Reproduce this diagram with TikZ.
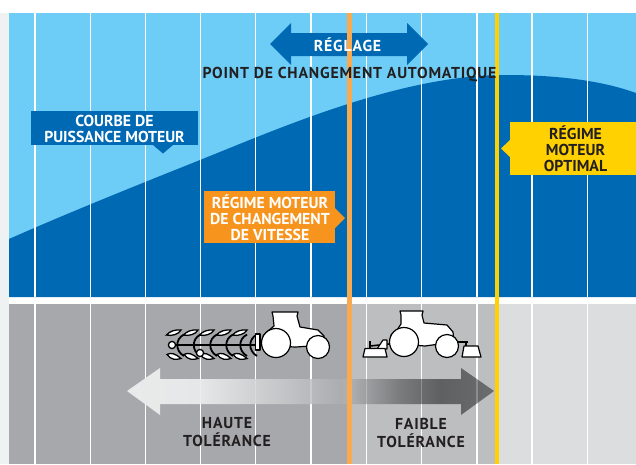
\documentclass[tikz,border=0pt]{standalone}
\usepackage{fontspec}
\setmainfont{PT Sans}
\newfontfamily\spaced[LetterSpace=5]{PT Sans}
\definecolor{sky}{HTML}{6DCDF6}
\definecolor{deep}{HTML}{0069B4}
\definecolor{ora}{HTML}{F7941E}
\definecolor{oraline}{HTML}{F9A94F}
\definecolor{yel}{HTML}{FFD100}
\definecolor{ink}{HTML}{231F20}
\definecolor{grayA}{HTML}{A7A8AB}
\definecolor{grayB}{HTML}{BDBEC0}
\definecolor{grayC}{HTML}{DCDDDF}
\definecolor{strip}{HTML}{EEF2F3}
\pgfdeclarehorizontalshading{gradarrow}{100bp}{
 rgb(0bp)=(0.914,0.918,0.918); rgb(25bp)=(0.914,0.918,0.918);
 rgb(35bp)=(0.902,0.906,0.910); rgb(54bp)=(0.675,0.678,0.690);
 rgb(55.2bp)=(0.69,0.694,0.702); rgb(62.2bp)=(0.478,0.482,0.490);
 rgb(67.6bp)=(0.373,0.376,0.384); rgb(75bp)=(0.42,0.424,0.431); rgb(100bp)=(0.42,0.424,0.431)}
\tikzset{
 x=1pt,y=-1pt,
 gridline/.style={white,line width=1.1pt},
 lbl/.style={font=\bfseries\fontsize{15.8}{16}\selectfont,align=center,inner sep=0pt},
 wide/.style={font=\spaced\bfseries\fontsize{15.8}{18}\selectfont,align=center,inner sep=0pt},
 veh/.style={draw=black,fill=white,line width=1.2pt,line join=round},
 leaf/.style={draw=black,fill=white,line width=1.3pt},
}
\begin{document}
\begin{tikzpicture}
\useasboundingbox (0,0) rectangle (636,464);
\fill[white] (0,0) rectangle (636,464);
\fill[strip] (0,13) rectangle (9,464);
\fill[sky] (9,13) rectangle (636,297);
\fill[deep] (9,239) .. controls (70,212) and (140,184) .. (200,160)
  .. controls (280,128) and (400,75) .. (505,75)
  .. controls (555,75) and (600,80) .. (636,93) -- (636,297) -- (9,297) -- cycle;
\fill[grayA] (9,304) rectangle (349,464);
\fill[grayB] (349,304) rectangle (497,464);
\fill[grayC] (497,304) rectangle (636,464);
\foreach \x in {35,90.3,145.3,200.7,255.7,311,366.3,421.3,477,532,587.3} {
  \draw[gridline] (\x,13) -- (\x,297);
  \draw[gridline] (\x,304) -- (\x,464);
}
% gradient arrow
\path[shading=gradarrow] (127,391) -- (160,368) -- (160,379) -- (461,379) -- (461,368) -- (494,391) -- (461,415) -- (461,404) -- (160,404) -- (160,415) -- cycle;
\foreach \x in {200.7,255.7,311,366.3,421.3,477} \draw[white,opacity=.25,line width=1.1pt] (\x,379) -- (\x,404);
% reglage arrow
\fill[deep] (270,44) -- (291,23) -- (291,33) -- (407,33) -- (407,23) -- (428,44) -- (407,65) -- (407,56) -- (291,56) -- (291,65) -- cycle;
% vertical markers
\coordinate (otop) at (349.5,13); \coordinate (obot) at (349.5,464);
\coordinate (ytop) at (497,13); \coordinate (ybot) at (497,464);
\draw[oraline,line width=4.2pt] (otop) -- (obot);
\draw[yel,line width=4.2pt] (ytop) -- (ybot);
% labels
\node[wide,white] (reg) at (347.5,44.5) {RÉGLAGE};
\node[wide,ink] (pt) at (349.5,74.5) {POINT DE CHANGEMENT AUTOMATIQUE};
% callouts
\fill[deep] (31,111) rectangle (198,145);
\fill[deep] (153,145) -- (163,153.5) -- (173,145) -- cycle;
\node[lbl,white] (cb) at (114.5,129) {COURBE DE\\PUISSANCE MOTEUR};
\fill[ora] (204,191) rectangle (335,243);
\fill[ora] (335,208) -- (345,218) -- (335,228) -- cycle;
\node[lbl,white] (rm) at (270,217.5) {RÉGIME MOTEUR\\DE CHANGEMENT\\DE VITESSE};
\fill[yel] (510,122) rectangle (636,175);
\fill[yel] (510,140) -- (501,148.5) -- (510,157) -- cycle;
\node[lbl,ink] (op) at (575.5,148.5) {RÉGIME\\MOTEUR\\OPTIMAL};
\node[wide,ink] (ht) at (227,432.5) {HAUTE\\TOLÉRANCE};
\node[wide,ink] (ft) at (421,432.5) {FAIBLE\\TOLÉRANCE};
% plough
\draw[black,line width=2.4pt] (172,345) -- (257,345);
\foreach \x in {186,202.5,219,235,249,259} {
  \draw[black,line width=1.8pt] (\x-2,334.5) .. controls (\x-11,339) and (\x-11,351) .. (\x-2,356);
}
\foreach \x in {166,183,199,216,232} {
  \path[leaf] (\x+.5,335) .. controls (\x+4,331) and (\x+9,329.5) .. (\x+15,330) .. controls (\x+13,334) and (\x+6,336.5) .. cycle;
  \path[leaf] (\x+1,354.5) .. controls (\x+5,352) and (\x+10,354) .. (\x+15,358.5) .. controls (\x+10,360) and (\x+5,360) .. cycle;
}
\draw[leaf] (172,345) circle (3.6);
\draw[leaf] (200,353) circle (3.6);
\draw[veh] (255.5,334) rectangle (260,350);
% tractor 1
\path[veh] (272,312) -- (298,312) -- (297,316) -- (300,327) -- (318,330) -- (324,336) -- (325,345) -- (296,347) -- (270,346) -- (263,336) -- (268,331) -- (274,326) -- (273,316) -- cycle;
\draw[veh] (276,343) circle (14.5);
\draw[veh] (318,347) circle (11.5);
% tractor 2
\draw[black,line width=1.6pt] (370,350) -- (370,341);
\draw[black,line width=1.6pt] (370,346) -- (389,344);
\path[veh] (377,349) -- (383,340) -- (387,340) -- (387,349) -- cycle;
\path[veh] (363,357) -- (365,348.5) -- (385,348.5) -- (387,357) -- cycle;
\draw[black,line width=1.8pt] (458,342) -- (468,342);
\draw[black,line width=1.6pt] (466,342) -- (466,347);
\path[veh] (462,357) -- (464,346) -- (478,346) -- (481,357) -- cycle;
\path[veh] (400,311) -- (423,311) -- (422,315) -- (424,323) -- (447,325) -- (453,332) -- (454,342) -- (425,346) -- (400,344) -- (391,335) -- (397,330) -- (401,324) -- (401,315) -- cycle;
\draw[veh] (404,342) circle (14.5);
\draw[veh] (447,346) circle (11.5);
\end{tikzpicture}
\end{document}
